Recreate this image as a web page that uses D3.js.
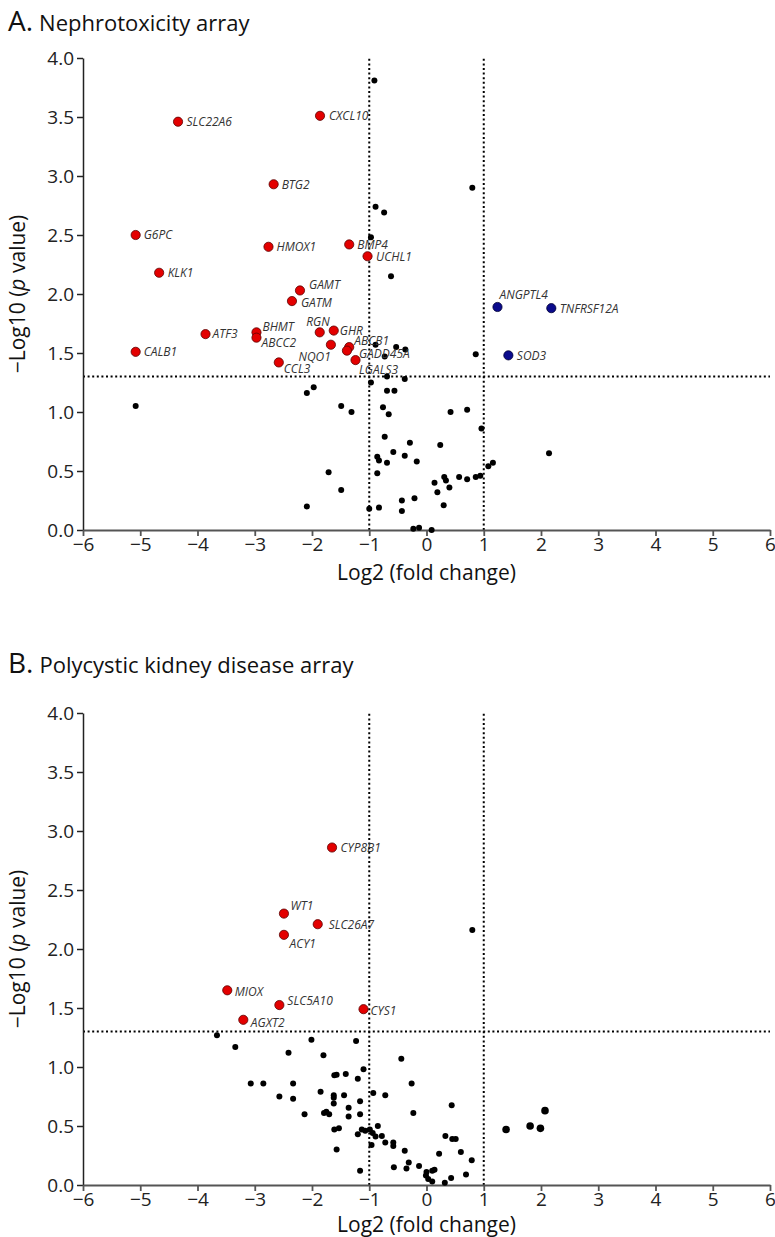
<!DOCTYPE html>
<html><head><meta charset="utf-8">
<script src="https://cdn.jsdelivr.net/npm/d3@7"></script>
<style>
body{margin:0;background:#fff;}
svg{display:block;font-family:"Open Sans",sans-serif;}
</style>
</head><body>
<svg id="chart" width="775" height="1237"></svg>
<script>
// ---------- DATA ----------
const xTicks = [-6,-5,-4,-3,-2,-1,0,1,2,3,4,5,6];
const yTicks = [0,0.5,1,1.5,2,2.5,3,3.5,4];
const pThreshold = 1.3;
const fcThresholds = [-1, 1];

// Panel A: Nephrotoxicity array  [gene, log2FC, -log10 p]
const nephroDown = [
  ["SLC22A6",-4.34,3.46],["CXCL10",-1.86,3.51],["BTG2",-2.67,2.93],["G6PC",-5.08,2.50],
  ["HMOX1",-2.76,2.40],["BMP4",-1.35,2.42],["UCHL1",-1.03,2.32],["KLK1",-4.67,2.18],
  ["GAMT",-2.21,2.03],["GATM",-2.35,1.94],["ATF3",-3.86,1.66],["BHMT",-2.97,1.675],
  ["ABCC2",-2.97,1.63],["RGN",-1.865,1.675],["GHR",-1.62,1.69],["NQO1",-1.67,1.57],
  ["ABCB1",-1.35,1.55],["GADD45A",-1.39,1.52],["LGALS3",-1.24,1.44],["CCL3",-2.58,1.42],
  ["CALB1",-5.08,1.51]
];
const nephroUp = [["ANGPTL4",1.24,1.89],["TNFRSF12A",2.18,1.88],["SOD3",1.43,1.48]];
const nephroNS = [
  [-0.91,3.81],[0.80,2.90],[-0.89,2.74],[-0.74,2.69],[-0.97,2.48],[-0.62,2.15],
  [-0.89,1.57],[-0.73,1.47],[-0.53,1.55],[-0.37,1.53],[0.86,1.49],
  [-0.69,1.30],[-0.38,1.28],[-0.97,1.25],[-1.97,1.21],[-2.09,1.16],[-0.69,1.18],[-0.56,1.18],
  [-1.49,1.05],[-1.31,1.00],[-0.76,1.04],[-0.66,0.98],[0.42,1.00],[0.71,1.02],[0.96,0.86],
  [-0.73,0.79],[-0.29,0.74],[0.24,0.72],[-0.86,0.62],[-0.83,0.59],[-0.69,0.57],[-0.58,0.66],
  [-0.38,0.63],[-0.17,0.58],[-1.71,0.49],[-0.86,0.48],[1.16,0.57],[1.08,0.54],[2.14,0.65],
  [0.31,0.45],[0.34,0.42],[0.57,0.45],[0.71,0.43],[0.86,0.45],[0.94,0.46],[0.14,0.40],
  [0.40,0.36],[0.19,0.32],[-1.49,0.34],[-2.09,0.20],[-1.00,0.18],[-0.83,0.19],[-0.43,0.25],
  [-0.21,0.27],[-0.43,0.16],[0.30,0.21],[-0.23,0.01],[-0.13,0.02],[0.09,0.00],[-5.08,1.05]
];

// Panel B: Polycystic kidney disease array
const pkdDown = [
  ["CYP8B1",-1.65,2.86],["WT1",-2.49,2.30],["SLC26A7",-1.90,2.21],["ACY1",-2.49,2.12],
  ["MIOX",-3.48,1.65],["SLC5A10",-2.57,1.525],["CYS1",-1.10,1.49],["AGXT2",-3.20,1.40]
];
const pkdNS = [
  [0.80,2.16],[-3.66,1.27],[-3.34,1.17],[-2.01,1.23],[-1.23,1.22],[-2.41,1.12],[-1.80,1.10],
  [-0.44,1.07],[-1.10,0.98],[-1.61,0.93],[-1.57,0.935],[-1.41,0.94],[-1.20,0.90],[-3.07,0.86],
  [-2.85,0.86],[-2.33,0.86],[-0.26,0.86],[-1.85,0.79],[-0.93,0.78],[-1.62,0.76],[-1.62,0.74],
  [-1.44,0.76],[-0.72,0.76],[-2.57,0.75],[-2.33,0.73],[-1.16,0.71],[-1.62,0.69],[-1.36,0.655],
  [0.44,0.675],[-2.13,0.60],[-1.79,0.61],[-1.75,0.62],[-1.70,0.60],[-1.36,0.58],[-1.16,0.60],
  [-0.23,0.61],[-1.61,0.47],[-1.53,0.48],[-1.20,0.43],[-1.13,0.47],[-1.07,0.46],[-0.99,0.47],
  [-0.85,0.50],[-0.94,0.44],[-0.89,0.41],[-0.78,0.415],[-0.96,0.34],[-0.72,0.36],[-0.58,0.36],
  [-0.58,0.33],[-1.57,0.30],[-0.38,0.29],[0.33,0.415],[0.45,0.39],[0.51,0.39],[0.22,0.265],
  [0.60,0.28],[0.79,0.21],[-0.31,0.19],[-0.35,0.14],[-0.57,0.15],[-0.13,0.16],[-1.16,0.12],
  [0.00,0.11],[0.10,0.12],[0.14,0.13],[-0.01,0.08],[0.03,0.05],[0.10,0.03],[0.32,0.02],
  [0.43,0.06],[0.69,0.09]
];
const pkdNSLarge = [[1.39,0.47],[1.81,0.50],[1.99,0.48],[2.07,0.63]];

// ---------- LAYOUT (label placement: dx, dy from point centre, anchor) ----------
const labelPos = {
  SLC22A6:[8.5,0,"start"], CXCL10:[9,0,"start"], BTG2:[8,0,"start"], G6PC:[8,0,"start"],
  HMOX1:[8,0,"start"], BMP4:[8,0,"start"], UCHL1:[8.5,0,"start"], KLK1:[8.5,0,"start"],
  GAMT:[9,-6,"start"], GATM:[9,2,"start"], ATF3:[7,0,"start"], BHMT:[6,-6,"start"],
  ABCC2:[5,5,"start"], RGN:[10,-10.5,"end"], GHR:[6,0,"start"], NQO1:[0,11.5,"end"],
  ABCB1:[5,-6,"start"], GADD45A:[12,3.5,"start"], LGALS3:[3.5,9.5,"start"], CCL3:[5,6.5,"start"],
  CALB1:[8,0,"start"], ANGPTL4:[2,-12.5,"start"], TNFRSF12A:[8.5,1,"start"], SOD3:[8.5,0,"start"],
  CYP8B1:[8.5,0,"start"], WT1:[6.5,-7.5,"start"], SLC26A7:[11,0.5,"start"], ACY1:[5.5,9,"start"],
  MIOX:[7.5,1,"start"], SLC5A10:[8,-4.5,"start"], CYS1:[7,1,"start"], AGXT2:[7.5,2.5,"start"]
};

const svg = d3.select("#chart");
const xRange = [83, 770];

function panel(cfg){
  const x = d3.scaleLinear().domain([-6,6]).range(xRange);
  const y = d3.scaleLinear().domain([0,4]).range([cfg.bottom, cfg.top]);
  const g = svg.append("g");

  // title
  const t = g.append("text").attr("x", 8).attr("y", cfg.titleY).attr("fill","#111");
  t.append("tspan").attr("font-size", 28).text(cfg.letter);
  t.append("tspan").attr("font-size", 22).attr("dx", 6).text(cfg.title);

  // threshold lines
  const dot = s => s.attr("stroke","#000").attr("stroke-width",2).attr("stroke-dasharray","2,2.6").attr("fill","none");
  fcThresholds.forEach(v => {
    dot(g.append("line").attr("x1", x(v)).attr("x2", x(v)).attr("y1", y(0)).attr("y2", y(4)));
  });
  dot(g.append("line").attr("x1", x(-6)).attr("x2", x(6)).attr("y1", y(pThreshold)).attr("y2", y(pThreshold)));

  // axes
  const ya = g.append("g").attr("transform", `translate(${x(-6)},0)`)
    .call(d3.axisLeft(y).tickValues(yTicks).tickFormat(d3.format(".1f")).tickSize(6).tickSizeOuter(0).tickPadding(3));
  ya.selectAll("path,line").attr("stroke","#222").attr("stroke-width",1.5);
  ya.selectAll("text").attr("font-size",19).attr("fill","#222").attr("font-family","Open Sans");

  const xa = g.append("g").attr("transform", `translate(0,${y(0)})`)
    .call(d3.axisBottom(x).tickValues(xTicks).tickFormat(d3.format("d")).tickSize(6).tickSizeOuter(0).tickPadding(2));
  xa.selectAll("path,line").attr("stroke","#555").attr("stroke-width",1.8);
  xa.selectAll("text").attr("font-size",19).attr("fill","#222").attr("font-family","Open Sans");

  // axis titles
  g.append("text").attr("x", (xRange[0]+xRange[1])/2).attr("y", y(0)+cfg.xTitleOff)
    .attr("text-anchor","middle").attr("font-size",21).attr("fill","#111").text("Log2 (fold change)");
  const yt = g.append("text").attr("transform", `translate(25,${(y(0)+y(4))/2}) rotate(-90)`)
    .attr("text-anchor","middle").attr("font-size",21).attr("fill","#111");
  yt.append("tspan").text("\u2212Log10 (");
  yt.append("tspan").attr("font-style","italic").text("p");
  yt.append("tspan").text(" value)");

  // points
  g.append("g").selectAll("circle").data(cfg.ns).join("circle")
    .attr("cx", d => x(d[0])).attr("cy", d => y(d[1])).attr("r", 3).attr("fill","#000");
  if (cfg.nsLarge) g.append("g").selectAll("circle").data(cfg.nsLarge).join("circle")
    .attr("cx", d => x(d[0])).attr("cy", d => y(d[1])).attr("r", 3.8).attr("fill","#000");

  const sig = (data, fill, stroke) => {
    g.append("g").selectAll("circle").data(data).join("circle")
      .attr("cx", d => x(d[1])).attr("cy", d => y(d[2])).attr("r", 4.6)
      .attr("fill", fill).attr("stroke", stroke).attr("stroke-width", 0.8);
    g.append("g").selectAll("text").data(data).join("text")
      .attr("x", d => x(d[1]) + labelPos[d[0]][0])
      .attr("y", d => y(d[2]) + labelPos[d[0]][1])
      .attr("dy","0.36em")
      .attr("text-anchor", d => labelPos[d[0]][2])
      .attr("font-size", 12).attr("font-style","italic").attr("fill","#333")
      .text(d => d[0]);
  };
  sig(cfg.down, "#e30000", "#5a0000");
  if (cfg.up) sig(cfg.up, "#0b0b8c", "#000033");
}

panel({letter:"A.", title:"Nephrotoxicity array", titleY:31, top:58, bottom:530, xTitleOff:50,
       ns: nephroNS, down: nephroDown, up: nephroUp});
panel({letter:"B.", title:"Polycystic kidney disease array", titleY:673, top:713, bottom:1185, xTitleOff:46.5,
       ns: pkdNS, nsLarge: pkdNSLarge, down: pkdDown});
</script>
</body></html>
